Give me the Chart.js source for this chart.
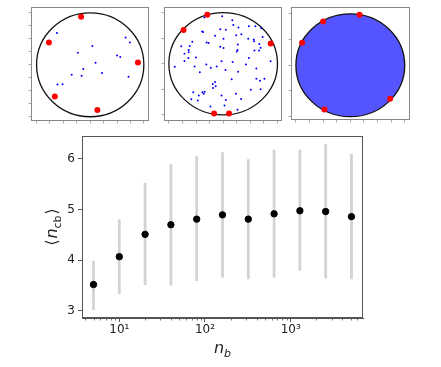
<!DOCTYPE html>
<html><head><meta charset="utf-8">
<script src="https://cdn.jsdelivr.net/npm/chart.js@4.4.1/dist/chart.umd.min.js"></script>
<style>
html,body{margin:0;padding:0;background:#fff;}
#wrap{position:relative;width:441px;height:367px;overflow:hidden;background:#fff;}
canvas{position:absolute;}
</style></head><body>
<div id="wrap">
<canvas id="main" width="441" height="367" style="left:0;top:0"></canvas>
<canvas id="p1" width="126" height="122" style="left:27px;top:3px"></canvas>
<canvas id="p2" width="126" height="122" style="left:160px;top:3px"></canvas>
<canvas id="p3" width="127" height="121" style="left:287px;top:3px"></canvas>
</div>
<script>
// ---------- main chart data ----------
const nb = [5, 10, 20, 40, 80, 160, 320, 640, 1280, 2560, 5120];
const meanNcb = [3.52, 4.07, 4.51, 4.70, 4.81, 4.895, 4.81, 4.915, 4.975, 4.96, 4.86];
const errLow  = [3.02, 3.33, 3.51, 3.50, 3.59, 3.66, 3.625, 3.66, 3.79, 3.64, 3.625];
const errHigh = [3.99, 4.81, 5.53, 5.895, 6.05, 6.13, 5.99, 6.18, 6.18, 6.29, 6.10];
const xMajorTicks = [10, 100, 1000];
const xTickLabels = ['10¹', '10²', '10³'];
const yTicks = [3, 4, 5, 6];

// ---------- inset panels data (unit circle coords) ----------
const p1RedX = [-0.17, -0.77, 0.89, -0.66, 0.133];
const p1RedY = [0.925, 0.43, 0.044, -0.61, -0.87];
const p1BlueX = [-0.62, 0.66, 0.74, 0.04, -0.23, 0.50, 0.56, 0.10, -0.13, 0.22, -0.345, -0.16, 0.715, -0.61, -0.515];
const p1BlueY = [0.61, 0.525, 0.43, 0.36, 0.23, 0.18, 0.15, 0.04, -0.08, -0.16, -0.19, -0.21, -0.23, -0.38, -0.375];

const p2RedX = [-0.293, -0.73, 0.874, -0.168, 0.108];
const p2RedY = [0.956, 0.657, 0.397, -0.975, -0.975];
const p2BlueX = [-0.347,-0.018,0.168,-0.054,0.048,0.186,0.281,0.473,0.593,0.701,-0.389,-0.371,0.335,-0.150,0.240,0.006,0.461,0.563,0.725,-0.569,-0.305,-0.269,0.269,0.569,0.665,0.689,-0.772,-0.617,-0.635,-0.635,-0.713,-0.054,0.006,0.263,0.251,0.575,0.659,-0.503,-0.641,-0.030,0.174,0.473,-0.713,-0.892,-0.527,-0.311,-0.120,-0.228,0.419,0.874,-0.431,0.042,0.275,0.611,0.156,0.611,0.760,0.677,-0.150,-0.192,-0.138,-0.186,0.509,0.689,-0.551,-0.383,-0.341,-0.449,-0.359,-0.030,0.234,-0.587,-0.467,0.048,0.329,-0.234,0.024,0.263];
const p2BlueY = [0.905,0.930,0.848,0.676,0.663,0.759,0.708,0.733,0.733,0.695,0.632,0.619,0.575,0.549,0.556,0.486,0.486,0.473,0.524,0.429,0.416,0.403,0.378,0.441,0.384,0.314,0.340,0.346,0.270,0.225,0.194,0.333,0.308,0.270,0.238,0.257,0.257,0.124,0.111,0.048,0.035,0.111,0.054,-0.060,-0.054,-0.016,-0.054,-0.079,-0.016,0.048,-0.168,-0.124,-0.156,-0.092,-0.302,-0.295,-0.295,-0.333,-0.359,-0.397,-0.441,-0.473,-0.511,-0.498,-0.556,-0.556,-0.549,-0.619,-0.587,-0.619,-0.587,-0.695,-0.721,-0.708,-0.689,-0.835,-0.816,-0.898];

const p3RedX = [0.17, -0.5, -0.887, 0.731, -0.475];
const p3RedY = [0.981, 0.85, 0.44, -0.653, -0.861];
// panel 3: thousands of blue points fill the disk -> drawn as a dense blue fill
const panelXTicks = [-1, -0.75, -0.5, -0.25, 0, 0.25, 0.5, 0.75, 1];
const panelYTicksFine = [-1, -0.75, -0.5, -0.25, 0, 0.25, 0.5, 0.75, 1];
const panelYTicksCoarse = [-1, -0.5, 0, 0.5, 1];

const FONT = "'DejaVu Sans', sans-serif";

function pts(xs, ys) { return xs.map((x, i) => ({x: x, y: ys[i]})); }

// ---------- main chart ----------
const errData = [];
nb.forEach((n, i) => { errData.push({x: n, y: errLow[i]}, {x: n, y: errHigh[i]}, {x: n, y: null}); });

function drawMath(ctx, parts, x, y) {
  let total = 0;
  parts.forEach(p => { ctx.font = p.font; p.w = ctx.measureText(p.t).width; total += p.w + (p.gap || 0); });
  let cx = x - total / 2;
  ctx.textBaseline = 'alphabetic';
  ctx.textAlign = 'left';
  parts.forEach(p => { ctx.font = p.font; ctx.fillText(p.t, cx, y + (p.dy || 0)); cx += p.w + (p.gap || 0); });
}

const mainDecor = {
  id: 'mainDecor',
  afterDraw(chart) {
    const ctx = chart.ctx, a = chart.chartArea, xs = chart.scales.x;
    ctx.save();
    ctx.strokeStyle = '#555'; ctx.lineWidth = 1;
    ctx.strokeRect(Math.round(a.left) + 0.5, Math.round(a.top) + 0.5, Math.round(a.right - a.left) - 1, Math.round(a.bottom - a.top) - 1);
    // minor log ticks
    ctx.beginPath();
    for (let d = 0; d <= 3; d++) for (let k = 2; k <= 9; k++) {
      const v = k * Math.pow(10, d);
      if (v < xs.min || v > xs.max) continue;
      const px = Math.round(xs.getPixelForValue(v)) + 0.5;
      ctx.moveTo(px, a.bottom); ctx.lineTo(px, a.bottom + 2.5);
    }
    ctx.strokeStyle = '#555'; ctx.lineWidth = 0.8; ctx.stroke();
    ctx.fillStyle = '#222';
    // x title n_b
    drawMath(ctx, [
      {t: 'n', font: 'italic 16px ' + FONT},
      {t: 'b', font: 'italic 11px ' + FONT, dy: 4}
    ], (a.left + a.right) / 2, 353);
    // y title <n_cb>
    ctx.translate(57, (a.top + a.bottom) / 2);
    ctx.rotate(-Math.PI / 2);
    drawMath(ctx, [
      {t: '⟨', font: '16px ' + FONT, gap: 1},
      {t: 'n', font: 'italic 16px ' + FONT},
      {t: 'cb', font: '11px ' + FONT, dy: 3.5, gap: 1},
      {t: '⟩', font: '16px ' + FONT}
    ], 0, 0);
    ctx.restore();
  }
};

new Chart(document.getElementById('main'), {
  type: 'scatter',
  data: {
    datasets: [
      {data: nb.map((n, i) => ({x: n, y: meanNcb[i]})), backgroundColor: '#000', borderColor: '#000', pointRadius: 3.2, pointHoverRadius: 3.2},
      {type: 'line', data: errData, borderColor: '#d3d3d3', borderWidth: 2.8, pointRadius: 0, spanGaps: false, showLine: true, fill: false}
    ]
  },
  options: {
    responsive: false, animation: false, devicePixelRatio: 1,
    layout: {padding: {left: 0, top: 136, right: 78, bottom: 0}},
    plugins: {legend: {display: false}, tooltip: {enabled: false}},
    scales: {
      x: {
        type: 'logarithmic', min: 3.67, max: 6980,
        afterFit: s => { s.height = 49; },
        afterBuildTicks: s => { s.ticks = xMajorTicks.map(v => ({value: v})); },
        grid: {drawOnChartArea: false, tickLength: 4, tickColor: '#555'},
        border: {display: true, color: '#555'},
        ticks: {autoSkip: false, maxRotation: 0, padding: 1, color: '#222', font: {family: FONT, size: 12},
          callback: (v) => { const i = xMajorTicks.indexOf(v); return i >= 0 ? xTickLabels[i] : ''; }}
      },
      y: {
        min: 2.86, max: 6.45,
        afterFit: s => { s.width = 82; },
        afterBuildTicks: s => { s.ticks = yTicks.map(v => ({value: v})); },
        grid: {drawOnChartArea: false, tickLength: 4, tickColor: '#555'},
        border: {display: true, color: '#555'},
        ticks: {padding: 3, color: '#222', font: {family: FONT, size: 12}}
      }
    }
  },
  plugins: [mainDecor]
});

// ---------- inset panels ----------
function makePanel(id, red, blue, range, yTickVals, denseFill) {
  const decor = {
    id: 'decor' + id,
    beforeDatasetsDraw(chart) {
      const ctx = chart.ctx, xs = chart.scales.x, ys = chart.scales.y;
      const cx = xs.getPixelForValue(0), cy = ys.getPixelForValue(0);
      const rx = xs.getPixelForValue(1) - cx, ry = cy - ys.getPixelForValue(1);
      ctx.save();
      ctx.beginPath();
      ctx.ellipse(cx, cy, rx, ry, 0, 0, Math.PI * 2);
      if (denseFill) { ctx.fillStyle = 'rgba(20,20,255,0.72)'; ctx.fill(); }
      ctx.strokeStyle = '#111'; ctx.lineWidth = 1.3; ctx.stroke();
      ctx.restore();
    },
    afterDraw(chart) {
      const ctx = chart.ctx, a = chart.chartArea;
      ctx.save();
      ctx.strokeStyle = '#888'; ctx.lineWidth = 1;
      ctx.strokeRect(Math.round(a.left) + 0.5, Math.round(a.top) + 0.5, Math.round(a.right - a.left) - 1, Math.round(a.bottom - a.top) - 1);
      ctx.restore();
    }
  };
  const datasets = [
    {data: red, backgroundColor: '#ff0000', borderColor: '#ff0000', pointRadius: 3, borderWidth: 0}
  ];
  if (blue) datasets.push({data: blue, backgroundColor: '#0000ff', borderColor: '#0000ff', pointRadius: 1, borderWidth: 0});
  new Chart(document.getElementById(id), {
    type: 'scatter',
    data: {datasets: datasets},
    options: {
      responsive: false, animation: false, devicePixelRatio: 1,
      layout: {padding: {left: 0, top: 1, right: 1, bottom: 0}},
      plugins: {legend: {display: false}, tooltip: {enabled: false}},
      scales: {
        x: {min: range[0], max: range[1],
          afterFit: s => { s.height = 4; },
          afterBuildTicks: s => { s.ticks = panelXTicks.map(v => ({value: v})); },
          grid: {drawOnChartArea: false, tickLength: 2.5, tickColor: '#aaa'},
          border: {display: false}, ticks: {display: false}},
        y: {min: range[2], max: range[3],
          afterFit: s => { s.width = 4; },
          afterBuildTicks: s => { s.ticks = yTickVals.map(v => ({value: v})); },
          grid: {drawOnChartArea: false, tickLength: 2.5, tickColor: '#aaa'},
          border: {display: false}, ticks: {display: false}}
      }
    },
    plugins: [decor]
  });
}

makePanel('p1', pts(p1RedX, p1RedY), pts(p1BlueX, p1BlueY), [-1.104, 1.096, -1.082, 1.113], panelYTicksFine, false);
makePanel('p2', pts(p2RedX, p2RedY), pts(p2BlueX, p2BlueY), [-1.090, 1.083, -1.12, 1.109], panelYTicksCoarse, false);
makePanel('p3', pts(p3RedX, p3RedY), null, [-1.090, 1.097, -1.064, 1.133], panelYTicksCoarse, true);
</script>
</body></html>
